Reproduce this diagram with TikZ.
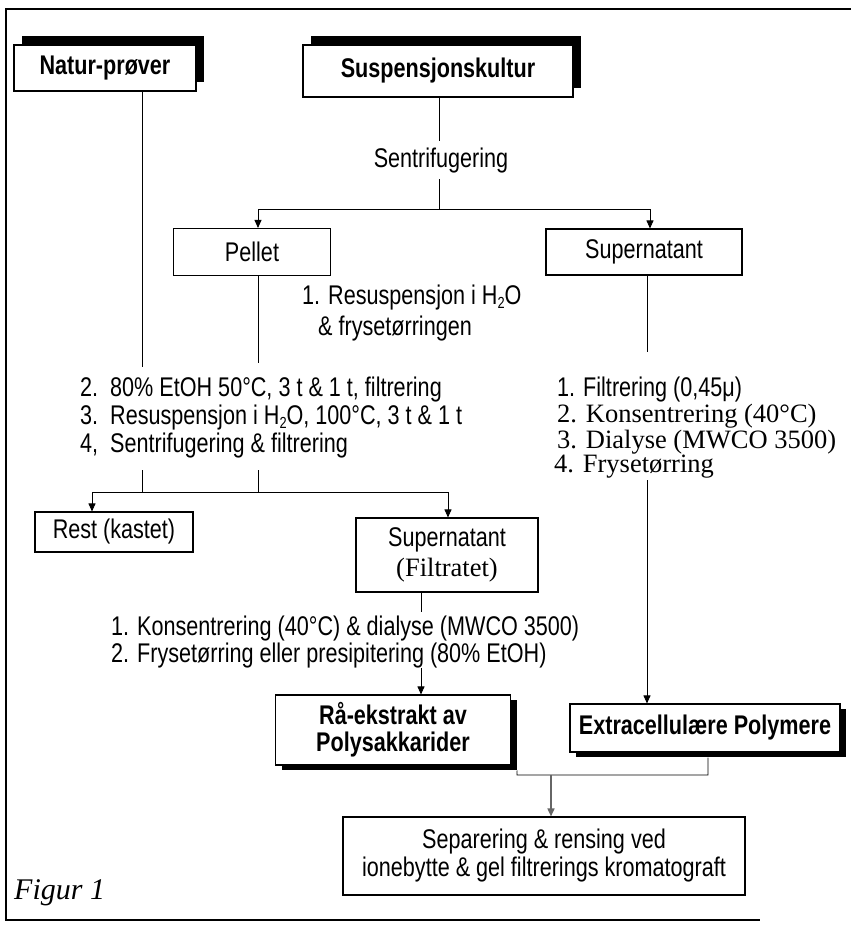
\documentclass[tikz,border=0pt]{standalone}
\usepackage{fontspec}
\setmainfont{Liberation Serif}
\newfontfamily\hsans[FakeStretch=0.8]{Liberation Sans}
\usetikzlibrary{arrows.meta,shadows,calc}
\newcommand\sz{\fontsize{27}{30}\selectfont}
\newcommand\ssz{\fontsize{26.5}{30}\selectfont}
\newcommand\hdo{H\raisebox{-0.35ex}{\fontsize{16}{16}\selectfont 2}O}
\begin{document}
\begin{tikzpicture}[x=1pt,y=-1pt,
  box/.style={draw, line width=1.1pt, fill=white, inner sep=0pt, font=\hsans\sz, align=center},
  bbox/.style={box, font=\hsans\bfseries\sz},
  shup/.style={drop shadow={shadow xshift=8pt,shadow yshift=9pt,fill=black,opacity=1}},
  shdn/.style={drop shadow={shadow xshift=6pt,shadow yshift=-5pt,fill=black,opacity=1}},
  lbl/.style={inner sep=0pt, font=\hsans\sz, text height=19pt, text depth=5pt},
  slbl/.style={inner sep=0pt, font=\ssz, text height=19pt, text depth=5pt},
  con/.style={line width=0.9pt},
  arr/.style={con, -{Triangle[length=8pt,width=7pt]}},
]
\useasboundingbox (0,0) rectangle (851,927);
% frame
\draw[line width=2.5pt] (851,9) -- (6,9) -- (6,920) -- (760,920);

% boxes
\node[bbox, shup, minimum width=182pt, minimum height=46pt] (natur) at (105,68) {Natur-prøver};
\node[bbox, shup, minimum width=270pt, minimum height=52pt] (susp) at (438,71) {Suspensjonskultur};
\node[lbl, inner ysep=7pt] (sentr) at (441,160) {Sentrifugering};
\node[box, minimum width=157pt, minimum height=47pt] (pellet) at (252,252) {Pellet};
\node[box, minimum width=196pt, minimum height=46pt] (supA) at (644,252) {Supernatant};
\node[lbl, anchor=west] (res1) at (302,297) {1. Resuspensjon i \hdo};
\node[lbl, anchor=west] (res2) at (318,328) {\& frysetørringen};
\node[lbl, anchor=west] (l2) at (80,389) {2.\ \ 80\% EtOH 50°C, 3 t \& 1 t, filtrering};
\node[lbl, anchor=west] (l3) at (80,417) {3.\ \ Resuspensjon i \hdo, 100°C, 3 t \& 1 t};
\node[lbl, anchor=west] (l4) at (80,445) {4,\ \ Sentrifugering \& filtrering};
\node[lbl, anchor=west] (r1) at (557,389) {1. Filtrering (0,45μ)};
\node[slbl, anchor=west] (r2) at (557,415) {2. Konsentrering (40°C)};
\node[slbl, anchor=west] (r3) at (557,441) {3. Dialyse (MWCO 3500)};
\node[slbl, anchor=west] (r4) at (554,465) {4. Frysetørring};
\node[box, minimum width=158pt, minimum height=40pt] (rest) at (114,532) {Rest (kastet)};
\node[box, minimum width=182pt, minimum height=74pt] (supB) at (447,555) {Supernatant\\{\rmfamily\ssz (Filtratet)}};
\node[lbl, anchor=west] (k1) at (111,628) {1. Konsentrering (40°C) \& dialyse (MWCO 3500)};
\node[lbl, anchor=west] (k2) at (111,655) {2. Frysetørring eller presipitering (80\% EtOH)};
\node[bbox, shdn, minimum width=235pt, minimum height=70pt, font=\hsans\bfseries\fontsize{27}{27}\selectfont] (raa) at (393,730) {Rå-ekstrakt av\\Polysakkarider};
\node[bbox, shdn, minimum width=270pt, minimum height=48pt] (extra) at (705,728) {Extracellulære Polymere};
\node[box, minimum width=402pt, minimum height=78pt, font=\hsans\fontsize{27}{28}\selectfont] (sep) at (544,856) {Separering \& rensing ved\\ionebytte \& gel filtrerings kromatograft};
\node[anchor=west, inner sep=0pt, font=\itshape\fontsize{30}{30}\selectfont] (fig) at (14,893) {Figur 1};

% coordinates
\coordinate (c1) at (439,209);
\coordinate (sL) at (258,209);
\coordinate (sR) at (650,209);
\coordinate (pE) at (258,363);
\coordinate (nE) at (142,367);
\coordinate (m1) at (142,470);
\coordinate (m2) at (258,470);
\coordinate (jL) at (142,492);
\coordinate (jR) at (258,492);
\coordinate (hL) at (92,492);
\coordinate (hR) at (448,492);
\coordinate (aE) at (647,352);
\coordinate (aS) at (647,480);
\coordinate (bx) at (421,612);
\coordinate (bx2) at (421,668);
\coordinate (q1) at (517,775);
\coordinate (q2) at (708,775);
\coordinate (q3) at (551,775);

% connectors
\draw[con] (susp.south -| c1) -- (sentr.north -| c1);
\draw[con] (sentr.south -| c1) -- (c1);
\draw[con] (sL) -- (sR);
\draw[arr] (sL) -- (sL |- pellet.north);
\draw[arr] (sR) -- (sR |- supA.north);
\draw[con] (pellet.south -| pE) -- (pE);
\draw[con] (natur.south -| nE) -- (nE);
\draw[con] (m1) -- (jL);
\draw[con] (m2) -- (jR);
\draw[con] (hL) -- (hR);
\draw[arr] (hL) -- (hL |- rest.north);
\draw[arr] (hR) -- (hR |- supB.north);
\draw[con] (supA.south -| aE) -- (aE);
\draw[arr] (aS) -- (aS |- extra.north);
\draw[con] (supB.south -| bx) -- (bx);
\draw[arr] (bx2) -- (bx2 |- raa.north);
\draw[con] ([xshift=6pt,yshift=-5pt]raa.south east) -- (q1) -- (q2) -- ([yshift=-5pt]extra.south -| q2);
\draw[arr, black!60, line width=1.6pt] (q3) -- (q3 |- sep.north);
\end{tikzpicture}
\end{document}
